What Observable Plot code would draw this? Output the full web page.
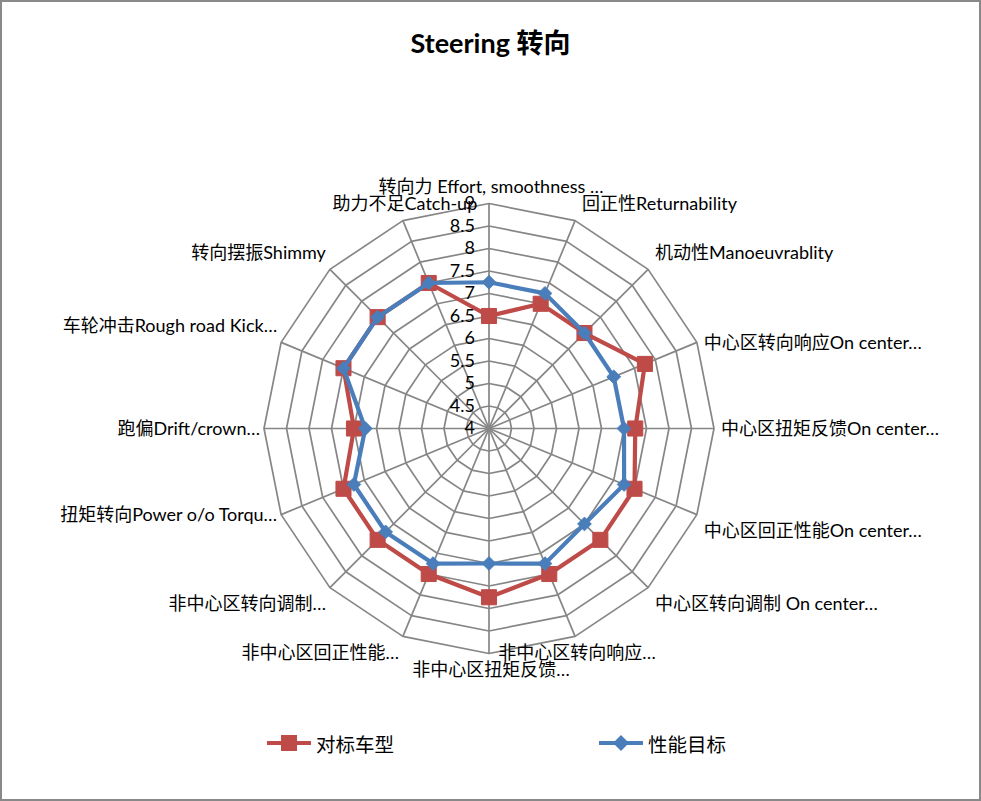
<!DOCTYPE html>
<html>
<head>
<meta charset="utf-8">
<script src="https://cdn.jsdelivr.net/npm/d3@7"></script>
<script src="https://cdn.jsdelivr.net/npm/@observablehq/plot@0.6"></script>
<style>
  body { margin: 0; background: #fff; }
  #frame { position: relative; width: 981px; height: 801px; overflow: hidden; background: #fff;
           font-family: Lato, "Noto Sans CJK SC", sans-serif; color: #000; }
  #border { position: absolute; left: 0; top: 0; width: 981px; height: 801px; box-sizing: border-box;
            border: 2px solid #898989; pointer-events: none; }
  #title { position: absolute; left: 0; width: 981px; top: 27px; text-align: center;
           font-weight: bold; font-size: 27px; line-height: 32px; }
  #chart { position: absolute; left: 0; top: 80px; }
  .item { position: absolute; top: 731px; height: 24px; display: flex; align-items: center; font-size: 19.5px; }
  .item span { margin-left: 5px; }
</style>
</head>
<body>
<div id="frame">
  <div id="title">Steering 转向</div>
  <div id="chart"></div>
  <div id="legend"></div>
  <div id="border"></div>
</div>
<script>
// ---- data ----
const categories = [
  "转向力 Effort, smoothness …",
  "回正性Returnability",
  "机动性Manoeuvrablity",
  "中心区转向响应On center…",
  "中心区扭矩反馈On center…",
  "中心区回正性能On center…",
  "中心区转向调制 On center…",
  "非中心区转向响应…",
  "非中心区扭矩反馈…",
  "非中心区回正性能…",
  "非中心区转向调制…",
  "扭矩转向Power o/o Torqu…",
  "跑偏Drift/crown…",
  "车轮冲击Rough road Kick…",
  "转向摆振Shimmy",
  "助力不足Catch-up"
];
const seriesNames = ["对标车型", "性能目标"];
const benchmark = [6.5, 7, 7, 7.75, 7.25, 7.5, 7.5, 7.5, 7.75, 7.5, 7.5, 7.5, 7, 7.5, 7.5, 7.5];
const target    = [7.25, 7.25, 7, 7, 7, 7.25, 7, 7.25, 7, 7.25, 7.25, 7.25, 6.75, 7.5, 7.5, 7.5];
const ticks = [4, 4.5, 5, 5.5, 6, 6.5, 7, 7.5, 8, 8.5, 9];

// ---- layout / style (not data) ----
const labelAnchor = ["middle","start","start","start","start","start","start","middle","middle","end","end","end","end","end","end","middle"];
const labelSide   = ["above","above","above","mid","mid","below","below","below","below","below","below","mid","mid","above","above","above"];
const colors = ["#BE4B48", "#4A7EBB"];
const symbols = ["square", "diamond2"];
const radii = [8.5, 6.2];

const N = categories.length;
const lo = ticks[0], hi = ticks[ticks.length - 1];
const norm = v => (v - lo) / (hi - lo);
const ang = i => i * 2 * Math.PI / N;
const px = (v, i) => norm(v) * Math.sin(ang(i));
const py = (v, i) => norm(v) * Math.cos(ang(i));

const cx = 488.5, cy = 348, R = 225;

const ringRows = ticks.slice(1).flatMap(t => categories.map((c, i) => ({t, x: px(t, i), y: py(t, i)})));

const series = [benchmark, target];

const labelMarks = [];
const dxFor = {start: 7, middle: 2, end: -4};
const dyFor = {above: -16, mid: 1, below: 17};
for (const a of ["start", "middle", "end"]) {
  for (const s of ["above", "mid", "below"]) {
    const idx = categories.map((c, i) => i).filter(i => labelAnchor[i] === a && labelSide[i] === s);
    if (!idx.length) continue;
    labelMarks.push(Plot.text(idx, {
      x: i => px(hi, i), y: i => py(hi, i), text: i => categories[i],
      textAnchor: a, dx: dxFor[a], dy: dyFor[s], fontSize: 18, fill: "#000"
    }));
  }
}

const chart = Plot.plot({
  width: 981,
  height: 620,
  margin: 0,
  x: {domain: [-1, 1], range: [cx - R, cx + R], axis: null},
  y: {domain: [-1, 1], range: [cy + R, cy - R], axis: null},
  style: {fontFamily: 'Lato, "Noto Sans CJK SC", sans-serif', background: "transparent", color: "#000"},
  marks: [
    Plot.line(ringRows, {x: "x", y: "y", z: "t", curve: "linear-closed", stroke: "#868686", strokeWidth: 1.7}),
    Plot.link(categories, {x1: () => 0, y1: () => 0, x2: (d, i) => px(hi, i), y2: (d, i) => py(hi, i), stroke: "#868686", strokeWidth: 1.7}),
    Plot.text(ticks, {x: () => 0, y: v => norm(v), text: v => String(v), textAnchor: "end", dx: -14, fontSize: 18, fill: "#000"}),
    ...labelMarks,
    ...series.flatMap((vals, k) => [
      Plot.line(vals, {x: (v, i) => px(v, i), y: (v, i) => py(v, i), curve: "linear-closed",
        stroke: colors[k], strokeWidth: 4.2, strokeLinejoin: "round"}),
      Plot.dot(vals, {x: (v, i) => px(v, i), y: (v, i) => py(v, i), symbol: symbols[k], r: radii[k],
        fill: colors[k], stroke: colors[k], strokeWidth: 1})
    ])
  ]
});
document.getElementById("chart").appendChild(chart);

// legend
const legend = document.getElementById("legend");
const lefts = [267, 599];
seriesNames.forEach((name, k) => {
  const item = document.createElement("div");
  item.className = "item";
  item.style.left = lefts[k] + "px";
  const marker = k === 0
    ? `<rect x="14" y="4" width="16" height="16" fill="${colors[k]}"/>`
    : `<path d="M22,4 L30,12 L22,20 L14,12 Z" fill="${colors[k]}"/>`;
  item.innerHTML = `<svg width="44" height="24"><line x1="0" x2="44" y1="12" y2="12" stroke="${colors[k]}" stroke-width="4" stroke-linecap="round"/>${marker}</svg><span>${name}</span>`;
  legend.appendChild(item);
});
</script>
</body>
</html>
